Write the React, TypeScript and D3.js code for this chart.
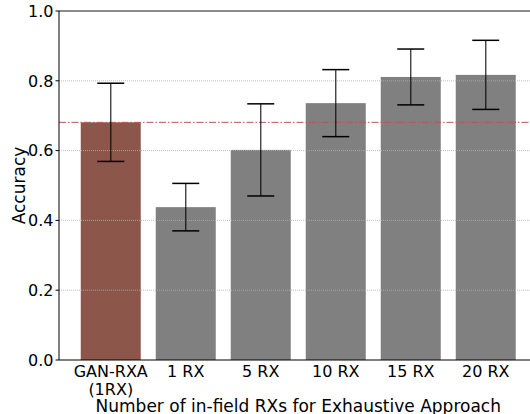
import React from 'react';
import * as d3 from 'd3';

const categories = ['GAN-RXA\n(1RX)', '1 RX', '5 RX', '10 RX', '15 RX', '20 RX'];
const means = [0.681, 0.438, 0.602, 0.736, 0.811, 0.817];
const errors = [0.112, 0.068, 0.132, 0.096, 0.080, 0.099];
const barColors = ['#8c564b', '#808080', '#808080', '#808080', '#808080', '#808080'];
const yTicks = [0, 0.2, 0.4, 0.6, 0.8, 1.0];
const gridTicks = [0.2, 0.4, 0.6, 0.8];
const baseline = 0.681;

export default function App() {
  const width = 530;
  const height = 414;
  const margin = { left: 59, top: 11, bottom: 54 };
  const plotBottom = height - margin.bottom; // 360

  // matplotlib-like x limits: bars of width 0.8 with 5% margins
  const x = d3.scaleLinear().domain([-0.69, 5.69]).range([margin.left, margin.left + 75 * 6.38]);
  const y = d3.scaleLinear().domain([0, 1]).range([plotBottom, margin.top]);
  const barW = x(0.8) - x(0);
  const capHalf = 13.5;
  const font = 'DejaVu Sans, sans-serif';

  return (
    <svg width={width} height={height} style={{ position: 'absolute', left: 0, top: 0, background: '#fff' }}>
      {/* bars */}
      {means.map((m, i) => (
        <rect
          key={'b' + i}
          x={x(i) - barW / 2}
          y={y(m)}
          width={barW}
          height={y(0) - y(m)}
          fill={barColors[i]}
        />
      ))}

      {/* grid, drawn above the bars */}
      {gridTicks.map(t => (
        <line
          key={'g' + t}
          x1={margin.left}
          x2={width}
          y1={y(t)}
          y2={y(t)}
          stroke="#b0b0b0"
          strokeWidth={0.8}
          strokeDasharray="1 1"
        />
      ))}

      {/* reference line */}
      <line
        x1={margin.left}
        x2={width}
        y1={y(baseline)}
        y2={y(baseline)}
        stroke="#b5594c"
        strokeWidth={1}
        strokeDasharray="7 2 1.5 2"
      />

      {/* error bars */}
      {means.map((m, i) => {
        const cx = x(i);
        return (
          <g key={'e' + i} stroke="#000">
            <line x1={cx} x2={cx} y1={y(m + errors[i])} y2={y(m - errors[i])} strokeWidth={1.3} strokeOpacity={0.8} />
            <line x1={cx - capHalf} x2={cx + capHalf} y1={y(m + errors[i])} y2={y(m + errors[i])} strokeWidth={1.5} />
            <line x1={cx - capHalf} x2={cx + capHalf} y1={y(m - errors[i])} y2={y(m - errors[i])} strokeWidth={1.5} />
          </g>
        );
      })}

      {/* spines */}
      <line x1={margin.left} x2={width} y1={y(1)} y2={y(1)} stroke="#666" strokeWidth={1.5} />
      <line x1={margin.left} x2={margin.left} y1={y(1)} y2={y(0)} stroke="#000" strokeWidth={1} />
      <line x1={margin.left} x2={width} y1={y(0)} y2={y(0)} stroke="#000" strokeWidth={1} />

      {/* y ticks */}
      {yTicks.map(t => (
        <g key={'t' + t}>
          <line x1={margin.left - 3.5} x2={margin.left} y1={y(t)} y2={y(t)} stroke="#000" strokeWidth={1} />
          <text
            x={margin.left - 5.5}
            y={y(t)}
            dy="0.36em"
            textAnchor="end"
            fontFamily={font}
            fontSize={16}
            fill="#000"
          >
            {t.toFixed(1)}
          </text>
        </g>
      ))}

      {/* x tick labels */}
      {categories.map((c, i) => (
        <text key={'x' + i} x={x(i)} y={377} textAnchor="middle" fontFamily={font} fontSize={16} fill="#000">
          {c.split('\n').map((line, j) => (
            <tspan key={j} x={x(i)} dy={j === 0 ? 0 : 17.5}>
              {line}
            </tspan>
          ))}
        </text>
      ))}

      {/* axis labels */}
      <text
        x={(margin.left + x(5.69)) / 2}
        y={412}
        textAnchor="middle"
        fontFamily={font}
        fontSize={17}
        fill="#000"
      >
        Number of in-field RXs for Exhaustive Approach
      </text>
      <text
        transform={`translate(24.5, ${(y(0) + y(1)) / 2}) rotate(-90)`}
        textAnchor="middle"
        fontFamily={font}
        fontSize={17}
        fill="#000"
      >
        Accuracy
      </text>
    </svg>
  );
}
